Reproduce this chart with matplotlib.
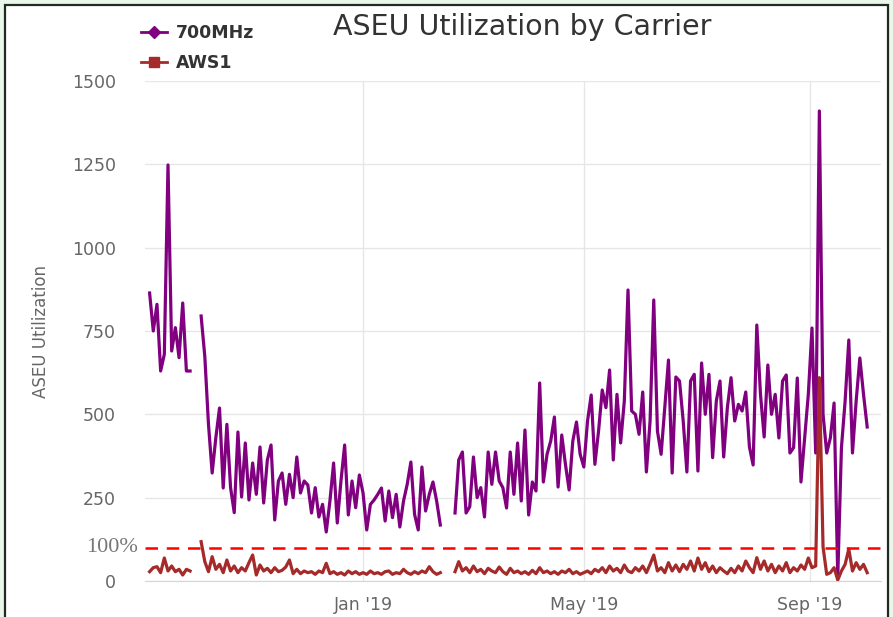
import numpy as np
import pandas as pd
import matplotlib
matplotlib.use("Agg")
import matplotlib.pyplot as plt
import matplotlib.dates as mdates
from matplotlib.lines import Line2D
from matplotlib.patches import Rectangle

nan = np.nan

# samples every 2 days starting 2018-09-07
start_date = "2018-09-07"

mhz700 = [
    864, 750, 830, 630, 680, 1248, 690, 760, 670, 834,
    630, 630, nan, nan, 795, 674, 470, 324, 430, 519,
    279, 470, 280, 205, 447, 252, 414, 243, 354, 260,
    402, 234, 363, 408, 183, 300, 324, 230, 320, 250,
    372, 264, 300, 288, 204, 280, 192, 230, 147, 240,
    354, 174, 300, 408, 198, 300, 220, 318, 264, 153,
    230, 243, 260, 279, 180, 270, 190, 260, 162, 240,
    290, 357, 200, 153, 342, 210, 260, 297, 240, 168,
    nan, nan, nan, 204, 363, 387, 204, 223, 372, 250,
    280, 192, 387, 290, 387, 300, 280, 219, 387, 260,
    414, 240, 453, 198, 297, 270, 594, 297, 380, 420,
    492, 282, 438, 350, 273, 420, 477, 380, 342, 480,
    558, 350, 450, 573, 520, 633, 363, 560, 414, 540,
    873, 510, 500, 440, 567, 327, 480, 843, 450, 380,
    520, 663, 324, 612, 600, 480, 327, 600, 620, 330,
    654, 500, 620, 370, 540, 600, 372, 520, 610, 480,
    530, 510, 567, 402, 348, 768, 560, 432, 648, 500,
    560, 429, 600, 618, 384, 400, 609, 297, 430, 560,
    759, 384, 1410, 500, 384, 430, 534, 12, 400, 540,
    723, 384, 540, 669, 560, 462,
]

aws1 = [
    28, 40, 43, 25, 69, 30, 45, 28, 35, 18,
    35, 30, nan, nan, 118, 58, 28, 73, 35, 50,
    25, 63, 30, 45, 25, 40, 30, 55, 78, 18,
    48, 30, 38, 25, 40, 28, 32, 42, 63, 22,
    35, 22, 30, 25, 28, 20, 30, 25, 53, 22,
    28, 20, 25, 18, 30, 22, 28, 20, 25, 20,
    30, 22, 25, 20, 28, 30, 20, 25, 22, 35,
    25, 20, 28, 22, 30, 25, 43, 28, 20, 25,
    nan, nan, nan, 28, 58, 30, 40, 25, 45, 28,
    35, 22, 38, 30, 25, 42, 28, 20, 38, 25,
    30, 22, 28, 20, 32, 22, 40, 25, 30, 22,
    28, 20, 30, 25, 35, 22, 28, 20, 25, 30,
    22, 35, 28, 40, 25, 45, 30, 38, 25, 48,
    30, 25, 40, 30, 45, 25, 50, 78, 30, 40,
    25, 55, 30, 48, 28, 50, 35, 60, 30, 69,
    35, 55, 28, 45, 25, 40, 30, 22, 38, 25,
    45, 30, 60, 40, 25, 70, 35, 60, 30, 50,
    25, 45, 30, 55, 25, 40, 30, 48, 35, 69,
    40, 45, 610, 102, 20, 25, 40, 3, 30, 50,
    96, 30, 55, 35, 50, 25,
]

dates = pd.date_range(start_date, periods=len(mhz700), freq="2D")

title = "ASEU Utilization by Carrier"
y_ticks = [0, 250, 500, 750, 1000, 1250, 1500]
threshold = 100

fig = plt.figure(figsize=(8.93, 6.17), dpi=100, facecolor="#eaf6ea")
ax = fig.add_axes([145 / 893, 1 - 581 / 617, (881 - 145) / 893, (581 - 81) / 617])

# white panel with dark frame
fig.patches.append(Rectangle((5 / 893, -0.02), 883 / 893, 1 - 5 / 617 + 0.02,
                             transform=fig.transFigure, facecolor="white",
                             edgecolor="#1f2b1f", linewidth=1.6, zorder=-10))

ax.plot(dates, mhz700, color="#800080", lw=2.3, zorder=3)
ax.plot(dates, aws1, color="#a52a2a", lw=2.3, zorder=4)
ax.axhline(threshold, color="#ff0000", lw=1.8, ls=(0, (5, 3.5)), zorder=5)
ax.text(-0.009, threshold, "100%", transform=ax.get_yaxis_transform(),
        ha="right", va="center", fontsize=16, color="#777777", family="Liberation Serif")

ax.set_ylim(0, 1500)
ax.set_yticks(y_ticks)
ax.set_xlim(pd.Timestamp("2019-01-01") - pd.Timedelta(days=118.5),
            pd.Timestamp("2019-01-01") + pd.Timedelta(days=281.5))
ax.xaxis.set_major_locator(mdates.MonthLocator(bymonth=[1, 5, 9]))
ax.xaxis.set_major_formatter(mdates.DateFormatter("%b '%y"))

ax.grid(True, color="#e6e6e6", lw=1)
ax.set_axisbelow(True)
for s in ["top", "right", "left"]:
    ax.spines[s].set_visible(False)
ax.spines["bottom"].set_color("#ccd6eb")
ax.tick_params(axis="both", length=0, labelsize=12.5, colors="#666666")
ax.tick_params(axis="y", pad=21)
ax.tick_params(axis="x", pad=11)
ax.set_ylabel("ASEU Utilization", fontsize=12, color="#666666", labelpad=16)
ax.set_facecolor("none")

fig.text(522 / 893, 1 - 27 / 617, title, ha="center", va="center",
         fontsize=20.5, color="#333333")

handles = [Line2D([], [], color="#800080", lw=2, marker="D", markersize=6),
           Line2D([], [], color="#a52a2a", lw=2, marker="s", markersize=7)]
fig.legend(handles, ["700MHz", "AWS1"], loc="upper left",
           bbox_to_anchor=(125 / 893, 1 - 8 / 617), frameon=False,
           prop={"weight": "bold", "size": 12.5}, labelcolor="#333333",
           handlelength=1.5, handletextpad=0.55, labelspacing=0.7)

fig.savefig("out.png", dpi=100, facecolor=fig.get_facecolor())
